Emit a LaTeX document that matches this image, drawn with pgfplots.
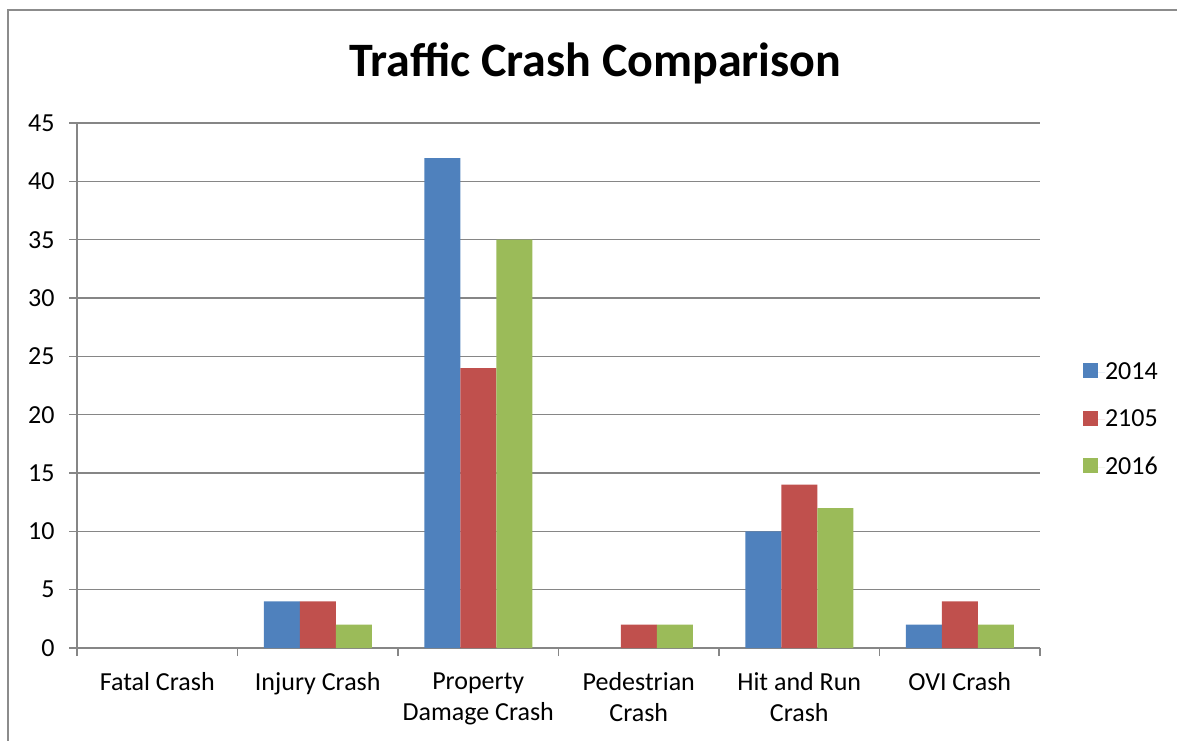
\documentclass[border=0pt]{standalone}
\usepackage{fontspec}
\setmainfont{Carlito}
\usepackage{pgfplots}
\pgfplotsset{compat=1.18}
\definecolor{c14}{RGB}{79,129,189}
\definecolor{c15}{RGB}{192,80,77}
\definecolor{c16}{RGB}{155,187,89}
\definecolor{axgray}{RGB}{134,134,134}
\definecolor{framegray}{RGB}{140,140,140}
\begin{document}
\begin{tikzpicture}
\draw[framegray, line width=1pt] (4pt,-30pt) -- (4pt,365pt) -- (640pt,365pt);
\begin{axis}[
  at={(38.5pt,46pt)}, anchor=south west,
  scale only axis, width=481.5pt, height=262.5pt,
  ybar=0pt, bar width=18pt,
  xmin=-0.5, xmax=5.5, ymin=0, ymax=45,
  ytick={0,5,...,45},
  xtick={-0.5,0.5,...,5.5},
  xticklabels={},
  extra x ticks={0,1,2,3,4,5},
  extra x tick labels={Fatal Crash, Injury Crash, {Property\\Damage Crash}, {Pedestrian\\Crash}, {Hit and Run\\Crash}, OVI Crash},
  extra x tick style={major tick length=0pt, grid=none},
  axis x line*=bottom, axis y line*=left,
  axis line style={axgray, line width=0.8pt, -},
  ymajorgrids, grid style={axgray, line width=0.8pt},
  major tick length=4pt, tick align=outside,
  tick style={axgray, line width=0.8pt},
  /pgf/number format/assume math mode=true,
  tick label style={font=\fontsize{13}{15.6}\selectfont, text=black},
  xticklabel style={align=center, anchor=north, inner sep=0pt, yshift=-12pt},
  yticklabel style={anchor=east, inner sep=0pt, xshift=-7pt},
  legend style={at={(1,0.4343)}, anchor=west, xshift=21.5pt, draw=none, fill=none,
    inner sep=0pt, outer sep=0pt, row sep=13.8pt,
    font=\fontsize{13}{15.6}\selectfont, nodes={inner sep=0pt, outer sep=0pt}},
  legend cell align=left,
  y filter/.expression={y==0 ? nan : y},
  unbounded coords=discard,
  clip=false,
]
\addplot[fill=c14, draw=none, legend image code/.code={\fill[c14] (0pt,-3pt) rectangle (7.5pt,4.5pt); \path (7.5pt,0pt) -- (11pt,0pt);}]
  coordinates {(0,0) (1,4) (2,42) (3,0) (4,10) (5,2)};
\addplot[fill=c15, draw=none, legend image code/.code={\fill[c15] (0pt,-3pt) rectangle (7.5pt,4.5pt); \path (7.5pt,0pt) -- (11pt,0pt);}]
  coordinates {(0,0) (1,4) (2,24) (3,2) (4,14) (5,4)};
\addplot[fill=c16, draw=none, legend image code/.code={\fill[c16] (0pt,-3pt) rectangle (7.5pt,4.5pt); \path (7.5pt,0pt) -- (11pt,0pt);}]
  coordinates {(0,0) (1,2) (2,35) (3,2) (4,12) (5,2)};
\legend{2014,2105,2016}
\end{axis}
\node[anchor=base, inner sep=0pt, font=\fontsize{24}{28}\selectfont\bfseries] at (297.75pt,331.5pt) {Traffic Crash Comparison};
\pgfresetboundingbox
\useasboundingbox (0pt,0pt) rectangle (588.5pt,370pt);
\end{tikzpicture}
\end{document}
